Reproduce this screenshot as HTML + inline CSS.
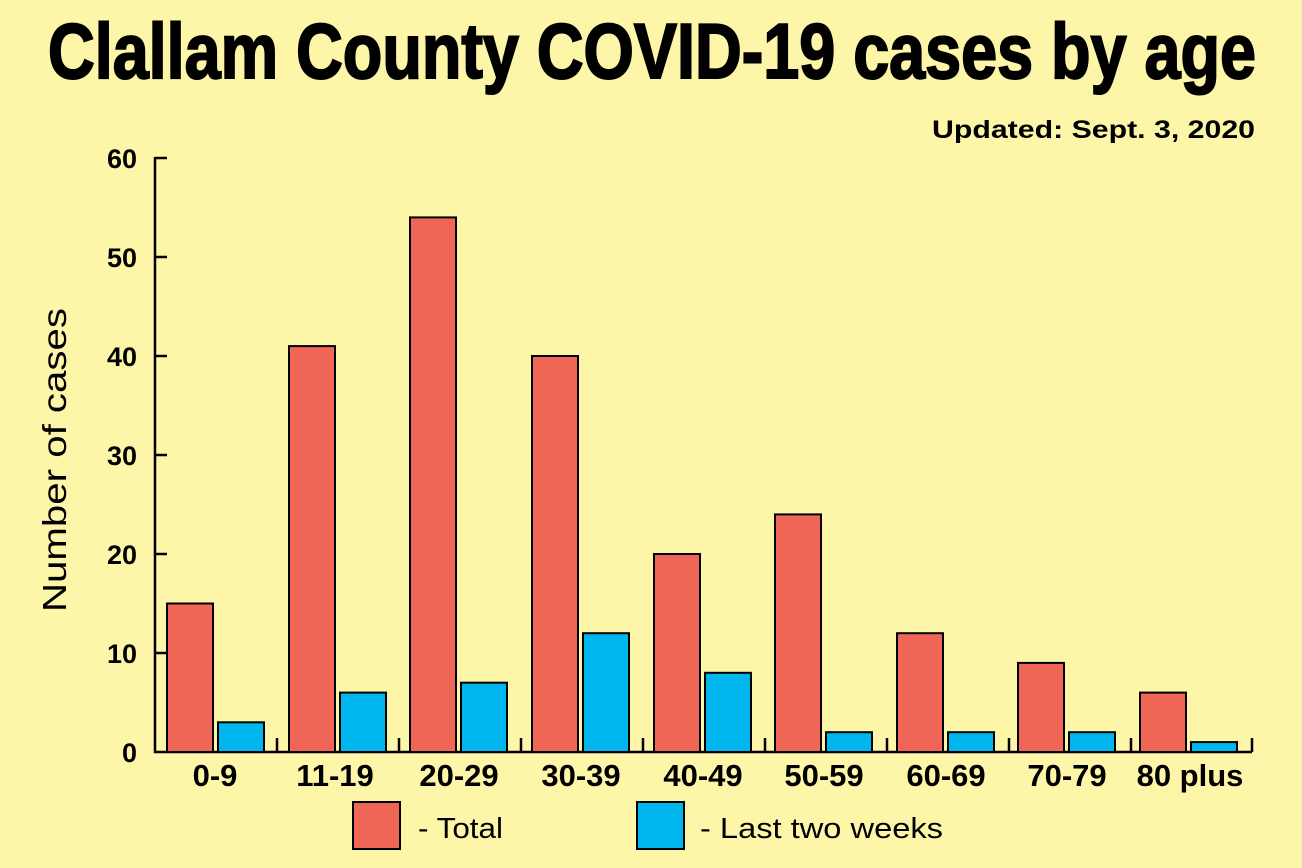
<!DOCTYPE html>
<html><head><meta charset="utf-8"><style>
html,body{margin:0;padding:0;background:#fdf5a8;}
svg{display:block}
</style></head><body>
<svg width="1302" height="868" viewBox="0 0 1302 868" xmlns="http://www.w3.org/2000/svg">
<rect width="1302" height="868" fill="#fdf5a8"/>
<text x="48" y="78" font-family="Liberation Sans Narrow, Liberation Sans, sans-serif" font-weight="bold" font-size="78" textLength="1208" lengthAdjust="spacingAndGlyphs" fill="#000" stroke="#000" stroke-width="2">Clallam County COVID-19 cases by age</text>
<text x="932" y="138" textLength="323" lengthAdjust="spacingAndGlyphs" font-family="Liberation Sans, sans-serif" font-weight="bold" font-size="25" fill="#000">Updated: Sept. 3, 2020</text>
<text transform="translate(66,460) rotate(-90)" text-anchor="middle" textLength="304" lengthAdjust="spacingAndGlyphs" font-family="Liberation Sans, sans-serif" font-size="33" fill="#000">Number of cases</text>
<g font-family="Liberation Sans, sans-serif" font-weight="bold" font-size="27" text-anchor="end" fill="#000">
<text x="137" y="762">0</text><text x="137" y="663">10</text><text x="137" y="564">20</text><text x="137" y="465">30</text><text x="137" y="366">40</text><text x="137" y="267">50</text><text x="137" y="168">60</text>
</g>
<g stroke="#000" stroke-width="2.5" fill="none">
<path d="M155 157 V752 H1252"/>
<path d="M155 158H167M155 257H167M155 356H167M155 455H167M155 554H167M155 653H167"/>
<path d="M277 752V738M399 752V738M521 752V738M643 752V738M765 752V738M887 752V738M1009 752V738M1131 752V738M1252 752V738"/>
</g>
<g stroke="#000" stroke-width="2">
<rect x="167" y="603.5" width="46" height="148.5" fill="#ef6657"/><rect x="218" y="722.3" width="46" height="29.7" fill="#00b6ee"/>
<rect x="289" y="346.1" width="46" height="405.9" fill="#ef6657"/><rect x="340" y="692.6" width="46" height="59.4" fill="#00b6ee"/>
<rect x="410" y="217.4" width="46" height="534.6" fill="#ef6657"/><rect x="461" y="682.7" width="46" height="69.3" fill="#00b6ee"/>
<rect x="532" y="356" width="46" height="396" fill="#ef6657"/><rect x="583" y="633.2" width="46" height="118.8" fill="#00b6ee"/>
<rect x="654" y="554" width="46" height="198" fill="#ef6657"/><rect x="705" y="672.8" width="46" height="79.2" fill="#00b6ee"/>
<rect x="775" y="514.4" width="46" height="237.6" fill="#ef6657"/><rect x="826" y="732.2" width="46" height="19.8" fill="#00b6ee"/>
<rect x="897" y="633.2" width="46" height="118.8" fill="#ef6657"/><rect x="948" y="732.2" width="46" height="19.8" fill="#00b6ee"/>
<rect x="1018" y="662.9" width="46" height="89.1" fill="#ef6657"/><rect x="1069" y="732.2" width="46" height="19.8" fill="#00b6ee"/>
<rect x="1140" y="692.6" width="46" height="59.4" fill="#ef6657"/><rect x="1191" y="742.1" width="46" height="9.9" fill="#00b6ee"/>
</g>
<g font-family="Liberation Sans, sans-serif" font-weight="bold" font-size="31" text-anchor="middle" fill="#000">
<text x="215" y="786">0-9</text><text x="335" y="786">11-19</text><text x="459" y="786">20-29</text><text x="581" y="786">30-39</text><text x="703" y="786">40-49</text><text x="824" y="786">50-59</text><text x="946" y="786">60-69</text><text x="1067" y="786">70-79</text><text x="1190" y="786">80 plus</text>
</g>
<rect x="353" y="802" width="47" height="47" fill="#ef6657" stroke="#000" stroke-width="2"/>
<text x="418" y="838" textLength="85" lengthAdjust="spacingAndGlyphs" font-family="Liberation Sans, sans-serif" font-size="29" fill="#000">- Total</text>
<rect x="637" y="802" width="47" height="47" fill="#00b6ee" stroke="#000" stroke-width="2"/>
<text x="700" y="838" textLength="243" lengthAdjust="spacingAndGlyphs" font-family="Liberation Sans, sans-serif" font-size="29" fill="#000">- Last two weeks</text>
</svg>
</body></html>
